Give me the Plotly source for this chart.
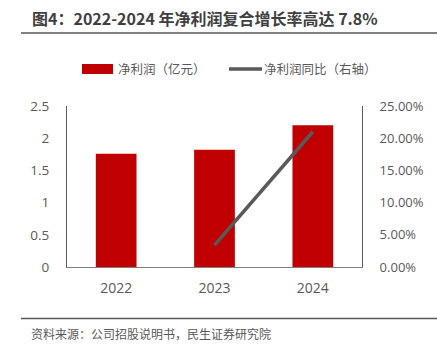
import plotly.graph_objects as go

years = ["2022", "2023", "2024"]
net_profit = [1.76, 1.82, 2.20]          # 亿元
growth_years = ["2023", "2024"]
growth = [0.034, 0.21]                   # 同比

W, H = 437, 352
L, R, T, B = 67, 75, 106, 85
PW, PH = W - L - R, H - T - B

def px(x):
    return (x - L) / PW

def py(y):
    return (H - B - y) / PH

CJK = "Noto Sans CJK SC"
NUM = "Open Sans, Noto Sans CJK SC"
GRAY = "#595959"
RED = "#C00000"

fig = go.Figure()
fig.add_trace(go.Bar(x=years, y=net_profit, marker=dict(color=RED, line=dict(width=0)),
                     name="净利润（亿元）", yaxis="y"))
fig.add_trace(go.Scatter(x=growth_years, y=growth, mode="lines",
                         line=dict(color=GRAY, width=3.5), name="净利润同比（右轴）",
                         yaxis="y2"))

shapes = [
    dict(type="line", xref="paper", yref="paper", x0=px(21), x1=px(437), y0=py(33), y1=py(33),
         line=dict(color=GRAY, width=1.5)),
    dict(type="line", xref="paper", yref="paper", x0=px(21), x1=px(437), y0=py(318.5), y1=py(318.5),
         line=dict(color=GRAY, width=1.5)),
    dict(type="rect", xref="paper", yref="paper", x0=px(82), x1=px(113), y0=py(74), y1=py(64),
         fillcolor=RED, line=dict(width=0)),
    dict(type="line", xref="paper", yref="paper", x0=px(229), x1=px(262), y0=py(69), y1=py(69),
         line=dict(color=GRAY, width=3.5)),
]

annotations = [
    dict(text="<b>图4：2022-2024 年净利润复合增长率高达 7.8%</b>", xref="paper", yref="paper",
         x=px(30), y=py(18), xanchor="left", yanchor="middle", showarrow=False,
         font=dict(family=CJK, size=16, color="#404040")),
    dict(text="净利润（亿元）", xref="paper", yref="paper", x=px(116), y=py(69),
         xanchor="left", yanchor="middle", showarrow=False,
         font=dict(family=CJK, size=12.5, color=GRAY)),
    dict(text="净利润同比（右轴）", xref="paper", yref="paper", x=px(262), y=py(69),
         xanchor="left", yanchor="middle", showarrow=False,
         font=dict(family=CJK, size=12.5, color=GRAY)),
    dict(text="资料来源：公司招股说明书，民生证券研究院", xref="paper", yref="paper",
         x=px(29), y=py(333), xanchor="left", yanchor="middle", showarrow=False,
         font=dict(family=CJK, size=12, color=GRAY)),
]

fig.update_layout(
    width=W, height=H,
    margin=dict(l=L, r=R, t=T, b=B, pad=0),
    paper_bgcolor="white", plot_bgcolor="white",
    showlegend=False,
    bargap=0.586,
    shapes=shapes,
    annotations=annotations,
    xaxis=dict(type="category", categoryorder="array", categoryarray=years,
               showline=True, linecolor="#7f7f7f", linewidth=1, showgrid=False,
               ticks="", tickfont=dict(family=NUM, size=14, color=GRAY), ticklabelstandoff=8),
    yaxis=dict(range=[0, 2.5], dtick=0.5, showline=True, linecolor=GRAY, linewidth=1,
               showgrid=False, zeroline=False, ticks="", tickformat="~g",
               tickfont=dict(family=NUM, size=13.5, color=GRAY), ticklabelstandoff=14),
    yaxis2=dict(range=[0, 0.25], dtick=0.05, overlaying="y", side="right",
                showline=True, linecolor=GRAY, linewidth=1, showgrid=False, zeroline=False,
                ticks="", tickformat=".2%",
                tickfont=dict(family=NUM, size=13, color=GRAY), ticklabelstandoff=14),
)

fig.write_html("out.html")
